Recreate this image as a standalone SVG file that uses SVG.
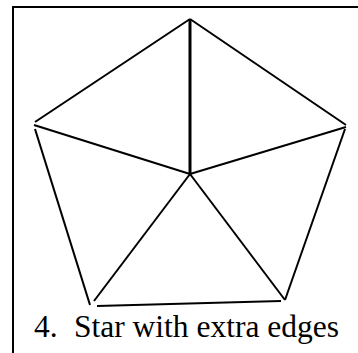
<svg xmlns="http://www.w3.org/2000/svg" width="358" height="353" viewBox="0 0 358 353">
<style>
.e{stroke:#000;stroke-width:2;fill:none;stroke-linecap:butt}
.frame{stroke:#000;stroke-width:2;fill:none}
.lbl{font-family:"Liberation Serif","Times New Roman",serif;font-size:31.5px;fill:#000}
</style>
<rect width="358" height="353" fill="#fff"/>
<path class="frame" d="M13 353 V7 H358"/>
<g id="connectors">
<line class="e" x1="190" y1="19" x2="35" y2="122"/>
<line class="e" x1="190" y1="19" x2="346" y2="125"/>
<line class="e" x1="190" y1="19" x2="190" y2="174" style="stroke-width:3"/>
<line class="e" x1="34" y1="125" x2="190" y2="174"/>
<line class="e" x1="346" y1="127" x2="190" y2="174"/>
<line class="e" x1="35" y1="129" x2="90" y2="305"/>
<line class="e" x1="345" y1="129" x2="285" y2="300"/>
<line class="e" x1="190" y1="174" x2="94" y2="301"/>
<line class="e" x1="190" y1="174" x2="285" y2="300"/>
<line class="e" x1="97" y1="306" x2="281" y2="301"/>
</g>
<g id="label">
<text class="lbl" x="34" y="337">4.</text>
<text class="lbl" x="74" y="337">Star with extra edges</text>
</g>
</svg>
